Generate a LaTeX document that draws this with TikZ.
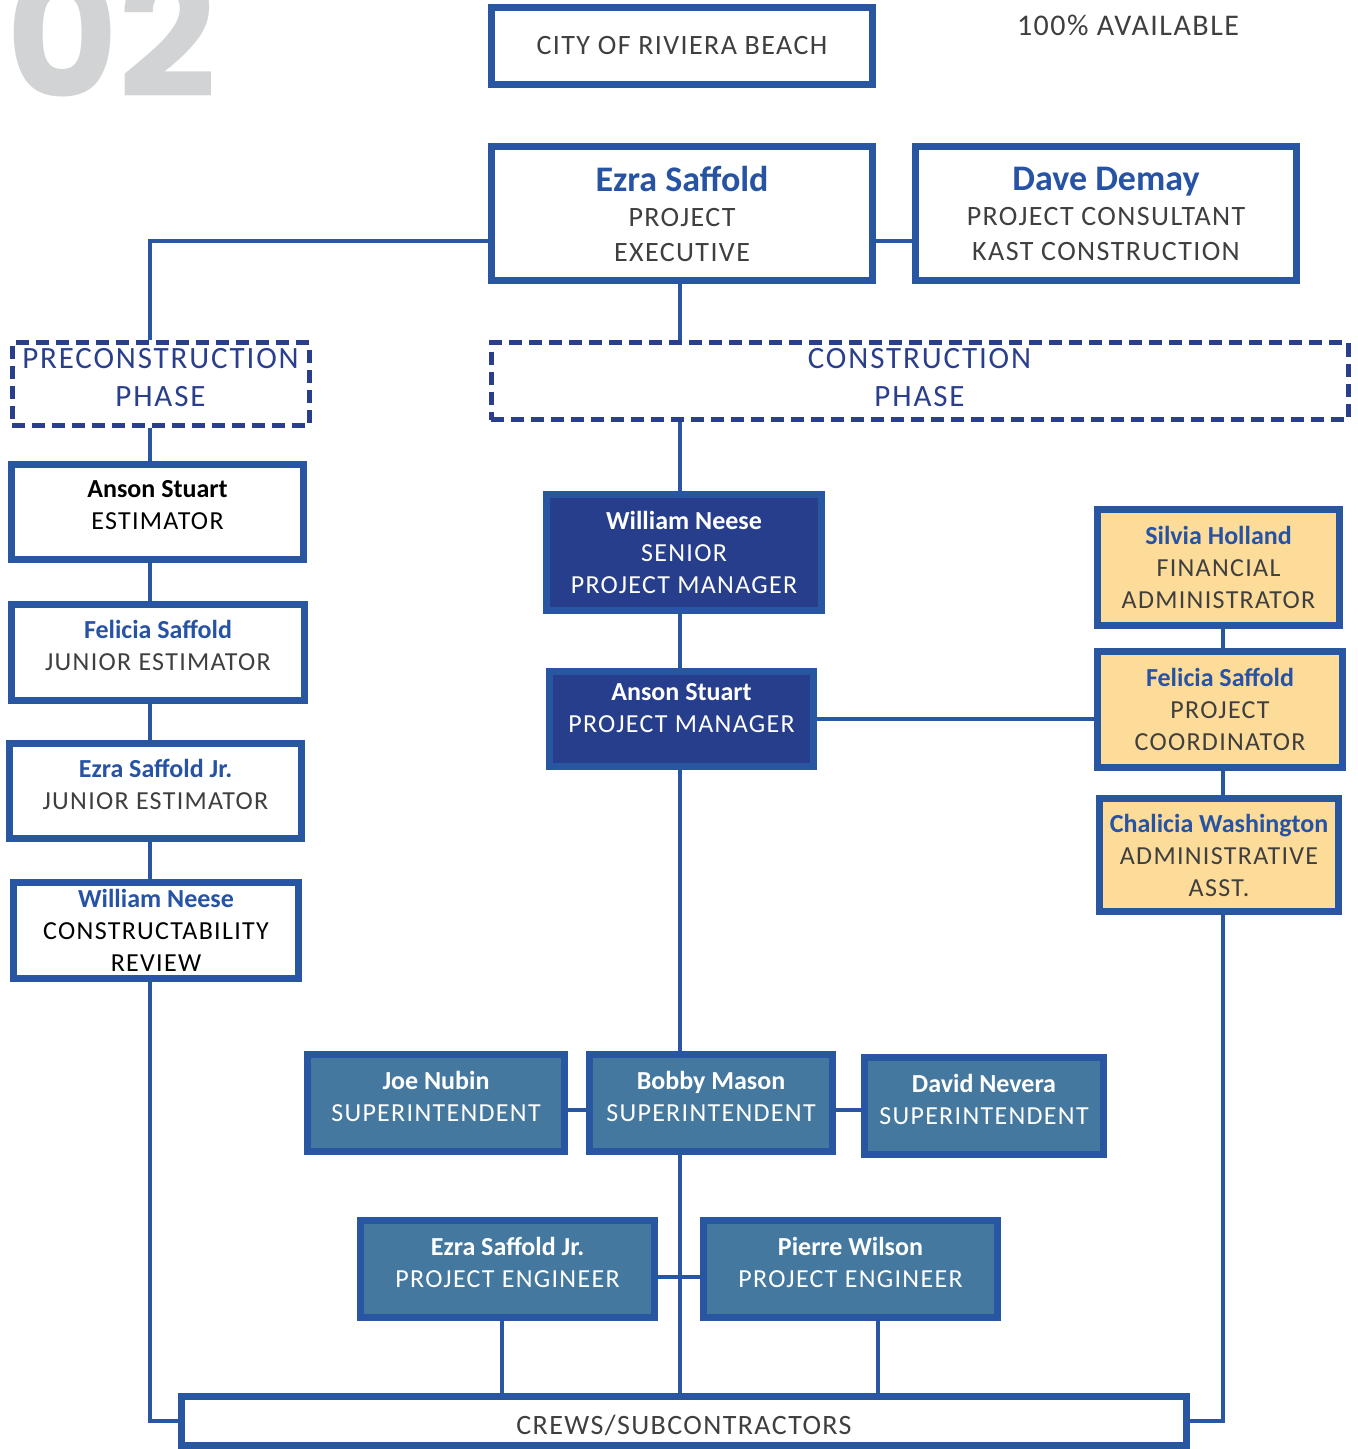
\documentclass[tikz,border=0pt]{standalone}
\usepackage{fontspec}
\setmainfont{Carlito}
\newfontfamily\rolefont{Carlito}[LetterSpace=5]
\newfontfamily\phasefont{Carlito}[LetterSpace=6]
\newfontfamily\numfont{Poppins}

\definecolor{lineblue}{HTML}{2856A0}
\definecolor{navy}{HTML}{263E8B}
\definecolor{steel}{HTML}{44789F}
\definecolor{sand}{HTML}{FDDB98}
\definecolor{nameblue}{HTML}{2753A4}
\definecolor{ink}{HTML}{3F3F3F}
\definecolor{dashnavy}{HTML}{2A3F8C}
\definecolor{numgray}{HTML}{D1D3D4}

% lift the text of two-line boxes a little
\newcommand{\lift}[1]{\rule[-#1]{0pt}{#1}}

\tikzset{
  sz/.style 2 args={minimum width={#1*0.5pt-3.5pt}, minimum height={#2*0.5pt-3.5pt}},
  card/.style={draw=lineblue, line width=3.5pt, fill=white, align=center, inner sep=0pt,
    text=ink, font=\rolefont\fontsize{13}{16}\selectfont},
  navycard/.style={card, fill=navy, text=white},
  steelcard/.style={card, fill=steel, text=white},
  sandcard/.style={card, fill=sand},
  phase/.style={draw=dashnavy, line width=2.5pt, dash pattern=on 6.5pt off 3.5pt, align=center,
    inner sep=0pt, text=dashnavy, font=\phasefont\fontsize{15.5}{19}\selectfont},
  conn/.style={draw=lineblue, line width=2.2pt},
}
\newcommand{\who}[1]{{\normalfont\bfseries #1}}
\newcommand{\bluewho}[1]{{\normalfont\bfseries\color{nameblue}#1}}

\begin{document}
\begin{tikzpicture}[x=0.5pt, y=-0.5pt]
  \useasboundingbox (0,0) rectangle (1357,1449);

  % Page number and header
  \node[anchor=base west, inner sep=0pt, text=numgray, font=\numfont\bfseries\fontsize{86}{86}\selectfont] (num) at (6,98) {02};
  \node[inner sep=0pt, text=ink, font=\rolefont\fontsize{15}{17}\selectfont] (avail) at (1128,25) {100\% AVAILABLE};

  % Owner and executives
  \node[card, sz={388}{84}, font=\rolefont\fontsize{14}{17}\selectfont] (city) at (682,46) {CITY OF RIVIERA BEACH};
  \node[card, sz={388}{141}, font=\rolefont\fontsize{14}{17.5}\selectfont] (ezra) at (682,213.5)
    {{\fontsize{18}{17.5}\selectfont\bluewho{Ezra Saffold}}\\PROJECT\\EXECUTIVE};
  \node[card, sz={388}{141}, font=\rolefont\fontsize{14}{17.5}\selectfont] (dave) at (1106,213.5)
    {{\fontsize{18}{17.5}\selectfont\bluewho{Dave Demay}}\\PROJECT CONSULTANT\\KAST CONSTRUCTION};

  % Phases
  \node[phase, sz={304}{90}] (pre) at (160.5,384) {PRECONSTRUCTION\\PHASE\lift{7pt}};
  \node[phase, sz={864}{84}] (con) at (919.5,381) {CONSTRUCTION\\PHASE\lift{4pt}};

  % Preconstruction team
  \node[card, sz={299}{102}, text=black] (aest) at (157.5,512) {\who{Anson Stuart}\\ESTIMATOR\lift{7pt}};
  \node[card, sz={300}{103}] (fest) at (158,652.5) {\bluewho{Felicia Saffold}\\JUNIOR ESTIMATOR\lift{7pt}};
  \node[card, sz={299}{102}] (eest) at (155.5,791) {\bluewho{Ezra Saffold Jr.}\\JUNIOR ESTIMATOR\lift{7pt}};
  \node[card, sz={292}{103}, text=black] (wrev) at (156,930.5) {\bluewho{William Neese}\\CONSTRUCTABILITY\\REVIEW};

  % Construction management
  \node[navycard, sz={282}{123}] (spm) at (684,552.5) {\who{William Neese}\\SENIOR\\PROJECT MANAGER};
  \node[navycard, sz={271}{102}] (pm) at (681.5,719) {\who{Anson Stuart}\\PROJECT MANAGER\lift{11pt}};

  % Office staff
  \node[sandcard, sz={249}{123}] (silvia) at (1218.5,567.5) {\bluewho{Silvia Holland}\\FINANCIAL\\ADMINISTRATOR};
  \node[sandcard, sz={252}{123}] (fpc) at (1220,709.5) {\bluewho{Felicia Saffold}\\PROJECT\\COORDINATOR};
  \node[sandcard, sz={246}{120}] (chal) at (1219,855) {\bluewho{Chalicia Washington}\\ADMINISTRATIVE\\ASST.};

  % Field staff
  \node[steelcard, sz={264}{104}] (joe) at (436,1103) {\who{Joe Nubin}\\SUPERINTENDENT\lift{7pt}};
  \node[steelcard, sz={250}{104}] (bobby) at (711,1103) {\who{Bobby Mason}\\SUPERINTENDENT\lift{7pt}};
  \node[steelcard, sz={246}{104}] (david) at (984,1106) {\who{David Nevera}\\SUPERINTENDENT\lift{7pt}};
  \node[steelcard, sz={301}{104}] (esj) at (507.5,1269) {\who{Ezra Saffold Jr.}\\PROJECT ENGINEER\lift{7pt}};
  \node[steelcard, sz={301}{104}] (pw) at (850.5,1269) {\who{Pierre Wilson}\\PROJECT ENGINEER\lift{7pt}};

  \node[card, sz={1012}{56}, font=\rolefont\fontsize{14}{17}\selectfont] (crews) at (684,1421) {\rule{0pt}{14pt}CREWS/SUBCONTRACTORS};

  % Line positions
  \coordinate (lx) at (150,0);
  \coordinate (cx) at (680,0);
  \coordinate (rx) at (1223,0);
  \coordinate (tie) at (0,241);
  \coordinate (sup) at (0,1110);
  \coordinate (eng) at (0,1277);

  % Connectors
  \draw[conn] (ezra.east |- tie) -- (dave.west |- tie);
  \draw[conn] (ezra.west |- tie) -| (lx |- pre.north);
  \draw[conn] (lx |- pre.south) -- (lx |- aest.north);
  \draw[conn] (lx |- aest.south) -- (lx |- fest.north);
  \draw[conn] (lx |- fest.south) -- (lx |- eest.north);
  \draw[conn] (lx |- eest.south) -- (lx |- wrev.north);
  \draw[conn] (lx |- wrev.south) |- (crews.west);

  \draw[conn] (cx |- ezra.south) -- (cx |- con.north);
  \draw[conn] (cx |- con.south) -- (cx |- spm.north);
  \draw[conn] (cx |- spm.south) -- (cx |- pm.north);
  \draw[conn] (cx |- pm.south) -- (cx |- bobby.north);
  \draw[conn] (cx |- bobby.south) -- (cx |- crews.north);
  \draw[conn] (pm.east) -- (fpc.west |- pm.east);

  \draw[conn] (rx |- silvia.south) -- (rx |- fpc.north);
  \draw[conn] (rx |- fpc.south) -- (rx |- chal.north);
  \draw[conn] (rx |- chal.south) |- (crews.east);

  \draw[conn] (joe.east |- sup) -- (bobby.west |- sup);
  \draw[conn] (bobby.east |- sup) -- (david.west |- sup);
  \draw[conn] (esj.east |- eng) -- (pw.west |- eng);
  \draw[conn] (esj.south -| 502,0) -- (crews.north -| 502,0);
  \draw[conn] (pw.south -| 878,0) -- (crews.north -| 878,0);
\end{tikzpicture}
\end{document}
